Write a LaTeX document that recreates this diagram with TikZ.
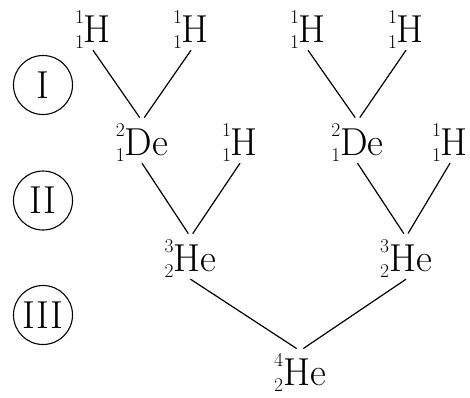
\documentclass[tikz,border=0pt]{standalone}
\usepackage{fontspec}
\usetikzlibrary{positioning}
\newcommand{\nucl}[3]{{\fontsize{19.5}{20}\selectfont\rlap{\raisebox{19pt}{#1}}\raisebox{-6pt}{#2}}#3}
\tikzset{
	nuc/.style={anchor=base,inner sep=2pt,font=\fontsize{39}{44}\selectfont},
	stage/.style={circle,draw,line width=1.1pt,minimum size=59pt,inner sep=0pt,font=\fontsize{39}{44}\selectfont},
	bond/.style={line width=1.2pt,shorten >=4pt}
}
\begin{document}
\begin{tikzpicture}[x=1pt,y=-1pt]
		\useasboundingbox (0,0) rectangle (470,397);
		\node[stage] (stI) at (43,85) {I};
		\node[stage] (stII) at (43,200.5) {II};
		\node[stage] (stIII) at (43,315) {III};
		\node[nuc] (hA) at (93,42) {\nucl{1}{1}{H}}; \node[nuc] (hB) at (191,42) {\nucl{1}{1}{H}};
		\node[nuc] (hC) at (308,42) {\nucl{1}{1}{H}}; \node[nuc] (hD) at (406,42) {\nucl{1}{1}{H}};
		\node[nuc] (deA) at (142,155) {\nucl{2}{1}{De}}; \node[nuc] (hE) at (240,155) {\nucl{1}{1}{H}};
		\node[nuc] (deB) at (357.5,155) {\nucl{2}{1}{De}}; \node[nuc] (hF) at (450,155) {\nucl{1}{1}{H}};
		\node[nuc] (heA) at (190.5,271) {\nucl{3}{2}{He}}; \node[nuc] (heB) at (406,271) {\nucl{3}{2}{He}};
		\node[nuc] (heC) at (300,385) {\nucl{4}{2}{He}};
		\draw[bond] (hA.south) -- (deA.north); \draw[bond] (hB.south) -- (deA.north);
		\draw[bond] (hC.south) -- (deB.north); \draw[bond] (hD.south) -- (deB.north);
		\draw[bond] (deA.south) -- (heA.north); \draw[bond] (hE.south) -- (heA.north);
		\draw[bond] (deB.south) -- (heB.north); \draw[bond] (hF.south) -- (heB.north);
		\draw[bond] (heA.south) -- (heC.north); \draw[bond] (heB.south) -- (heC.north);
\end{tikzpicture}
\end{document}
